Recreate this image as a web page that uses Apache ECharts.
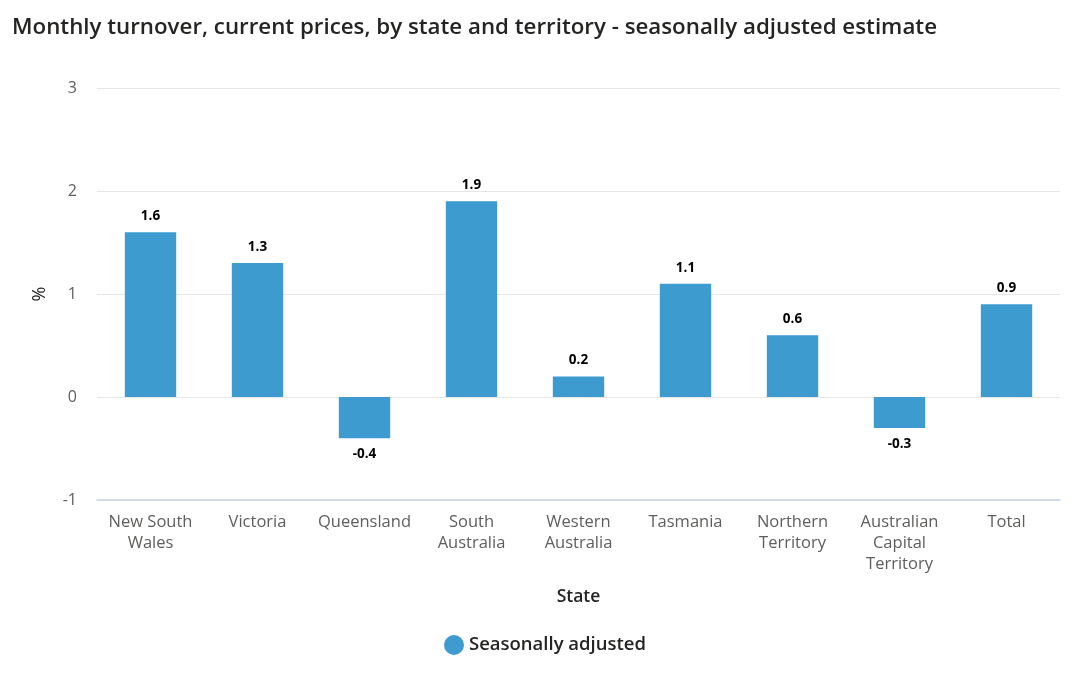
<!DOCTYPE html>
<html>
<head>
<meta charset="utf-8">
<script src="https://cdn.jsdelivr.net/npm/echarts@6/dist/echarts.min.js"></script>
<style>html,body{margin:0;padding:0;background:#fff}#c{width:1090px;height:675px}</style>
</head>
<body>
<div id="c"></div>
<script>
const categories = ["New South\nWales","Victoria","Queensland","South\nAustralia","Western\nAustralia","Tasmania","Northern\nTerritory","Australian\nCapital\nTerritory","Total"];
const seasonallyAdjusted = [1.6, 1.3, -0.4, 1.9, 0.2, 1.1, 0.6, -0.3, 0.9];
const yTicks = {min: -1, max: 3, interval: 1};

const font = "'Open Sans', 'Noto Sans', sans-serif";
const chart = echarts.init(document.getElementById('c'));
chart.setOption({
  animation: false,
  title: {
    text: 'Monthly turnover, current prices, by state and territory - seasonally adjusted estimate',
    left: 7, top: 12,
    textStyle: {fontFamily: font, fontSize: 22.3, fontWeight: 600, color: '#252423'}
  },
  legend: {
    bottom: 15, left: 'center',
    icon: 'circle', itemWidth: 20, itemHeight: 20, itemGap: 7,
    textStyle: {fontFamily: font, fontSize: 18.5, fontWeight: 600, color: '#252423'},
    data: ['Seasonally adjusted']
  },
  grid: {left: 97, right: 30, top: 88, bottom: 175, containLabel: false},
  xAxis: {
    type: 'category', data: categories,
    name: 'State', nameLocation: 'middle', nameGap: 88,
    nameTextStyle: {fontFamily: font, fontSize: 17.5, fontWeight: 600, color: '#252423'},
    axisLine: {show: true, onZero: false, lineStyle: {color: '#c8d3e6', width: 1.5}},
    axisTick: {show: false},
    axisLabel: {fontFamily: font, fontSize: 16.5, color: '#605e5c', lineHeight: 21, margin: 12, interval: 0}
  },
  yAxis: {
    type: 'value', min: yTicks.min, max: yTicks.max, interval: yTicks.interval,
    name: '%', nameLocation: 'middle', nameGap: 48, nameRotate: 90,
    nameTextStyle: {fontFamily: font, fontSize: 18, color: '#252423'},
    axisLine: {show: false}, axisTick: {show: false},
    axisLabel: {fontFamily: font, fontSize: 16, color: '#605e5c', margin: 20},
    splitLine: {lineStyle: {color: '#e6e6e6', width: 1}}
  },
  series: [{
    name: 'Seasonally adjusted', type: 'bar',
    data: seasonallyAdjusted.map(v => ({value: v, label: {position: v < 0 ? 'bottom' : 'top'}})),
    barWidth: '48%',
    itemStyle: {color: '#3d9bd0'},
    label: {
      show: true, distance: 9,
      fontFamily: font, fontSize: 13.5, fontWeight: 'bold', color: '#000',
      formatter: p => p.value.toFixed(1)
    }
  }]
});
</script>
</body>
</html>
